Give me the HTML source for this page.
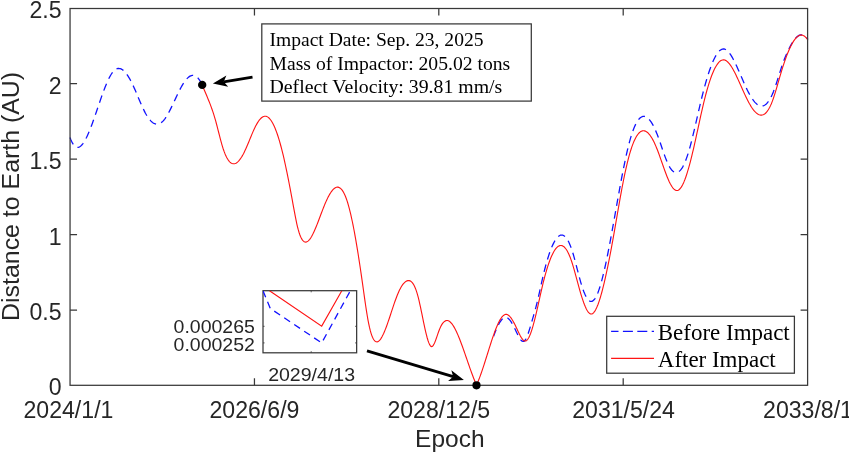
<!DOCTYPE html><html><head><meta charset="utf-8"><title>Distance to Earth</title><style>html,body{margin:0;padding:0;background:#fff}svg{display:block;will-change:transform;opacity:0.999}</style></head><body><svg width="849" height="452" viewBox="0 0 849 452">
<rect width="849" height="452" fill="#fff"/>
<clipPath id="cb"><rect x="494" y="0" width="330" height="400"/></clipPath>
<path d="M70.00,137.60 L70.75,139.50 L71.50,141.18 L72.25,142.65 L73.00,143.90 L73.75,144.95 L74.50,145.81 L75.25,146.47 L76.00,146.94 L76.75,147.23 L77.50,147.35 L78.25,147.30 L79.00,147.10 L79.75,146.73 L80.50,146.22 L81.25,145.57 L82.00,144.78 L82.75,143.86 L83.50,142.81 L84.25,141.65 L85.00,140.38 L85.75,139.00 L86.50,137.53 L87.25,135.96 L88.00,134.30 L88.75,132.57 L89.50,130.76 L90.25,128.88 L91.00,126.95 L91.75,124.95 L92.50,122.91 L93.25,120.83 L94.00,118.71 L94.75,116.56 L95.50,114.38 L96.25,112.19 L97.00,109.99 L97.75,107.78 L98.50,105.57 L99.25,103.37 L100.00,101.18 L100.75,99.02 L101.50,96.87 L102.25,94.76 L103.00,92.69 L103.75,90.67 L104.50,88.69 L105.25,86.77 L106.00,84.92 L106.75,83.13 L107.50,81.42 L108.25,79.80 L109.00,78.26 L109.75,76.81 L110.50,75.47 L111.25,74.23 L112.00,73.11 L112.75,72.10 L113.50,71.22 L114.25,70.47 L115.00,69.84 L115.75,69.33 L116.50,68.94 L117.25,68.67 L118.00,68.51 L118.75,68.46 L119.50,68.52 L120.25,68.68 L121.00,68.95 L121.75,69.32 L122.50,69.79 L123.25,70.36 L124.00,71.02 L124.75,71.77 L125.50,72.61 L126.25,73.53 L127.00,74.54 L127.75,75.63 L128.50,76.80 L129.25,78.04 L130.00,79.36 L130.75,80.75 L131.50,82.21 L132.25,83.73 L133.00,85.32 L133.75,86.95 L134.50,88.63 L135.25,90.35 L136.00,92.09 L136.75,93.85 L137.50,95.63 L138.25,97.41 L139.00,99.19 L139.75,100.95 L140.50,102.70 L141.25,104.42 L142.00,106.10 L142.75,107.74 L143.50,109.33 L144.25,110.86 L145.00,112.33 L145.75,113.72 L146.50,115.02 L147.25,116.25 L148.00,117.39 L148.75,118.45 L149.50,119.42 L150.25,120.30 L151.00,121.10 L151.75,121.81 L152.50,122.42 L153.25,122.95 L154.00,123.39 L154.75,123.73 L155.50,123.98 L156.25,124.13 L157.00,124.19 L157.75,124.16 L158.50,124.02 L159.25,123.79 L160.00,123.46 L160.75,123.03 L161.50,122.50 L162.25,121.87 L163.00,121.13 L163.75,120.29 L164.50,119.35 L165.25,118.33 L166.00,117.21 L166.75,116.03 L167.50,114.77 L168.25,113.44 L169.00,112.06 L169.75,110.63 L170.50,109.15 L171.25,107.64 L172.00,106.09 L172.75,104.52 L173.50,102.93 L174.25,101.33 L175.00,99.72 L175.75,98.12 L176.50,96.53 L177.25,94.94 L178.00,93.39 L178.75,91.85 L179.50,90.36 L180.25,88.90 L181.00,87.50 L181.75,86.14 L182.50,84.85 L183.25,83.63 L184.00,82.47 L184.75,81.39 L185.50,80.39 L186.25,79.47 L187.00,78.63 L187.75,77.88 L188.50,77.22 L189.25,76.65 L190.00,76.18 L190.75,75.81 L191.50,75.55 L192.25,75.39 L193.00,75.34 L193.75,75.40 L194.50,75.58 L195.25,75.88 L196.00,76.30 L196.75,76.84 L197.50,77.52 L198.25,78.33 L199.00,79.27 L199.75,80.36 L200.50,81.58 L201.25,82.96 L202.00,84.48 L202.25,85.02" fill="none" stroke="#1212ff" stroke-width="1.3" stroke-dasharray="7.5 5.3"/>
<path d="M476.50,385.00 L477.25,383.33 L478.00,381.56 L478.75,379.71 L479.50,377.77 L480.25,375.76 L481.00,373.69 L481.75,371.56 L482.50,369.38 L483.25,367.16 L484.00,364.90 L484.75,362.61 L485.50,360.31 L486.25,357.99 L487.00,355.66 L487.75,353.34 L488.50,351.03 L489.25,348.73 L490.00,346.45 L490.75,344.21 L491.50,342.01 L492.25,339.85 L493.00,337.75 L493.75,335.71 L494.50,333.73 L495.25,331.83 L496.00,330.02 L496.75,328.29 L497.50,326.67 L498.25,325.14 L499.00,323.74 L499.75,322.45 L500.50,321.29 L501.25,320.26 L502.00,319.38 L502.75,318.64 L503.50,318.07 L504.25,317.66 L505.00,317.42 L505.75,317.36 L506.50,317.48 L507.25,317.79 L508.00,318.26 L508.75,318.90 L509.50,319.68 L510.25,320.60 L511.00,321.65 L511.75,322.82 L512.50,324.09 L513.25,325.46 L514.00,326.92 L514.75,328.46 L515.50,330.05 L516.25,331.66 L517.00,333.26 L517.75,334.81 L518.50,336.28 L519.25,337.64 L520.00,338.84 L520.75,339.85 L521.50,340.64 L522.25,341.18 L523.00,341.42 L523.75,341.33 L524.50,340.88 L525.25,340.04 L526.00,338.81 L526.75,337.25 L527.50,335.40 L528.25,333.32 L529.00,331.04 L529.75,328.62 L530.50,326.11 L531.25,323.55 L532.00,320.99 L532.75,318.44 L533.50,315.87 L534.25,313.26 L535.00,310.58 L535.75,307.80 L536.50,304.90 L537.25,301.86 L538.00,298.69 L538.75,295.43 L539.50,292.09 L540.25,288.72 L541.00,285.33 L541.75,281.96 L542.50,278.65 L543.25,275.40 L544.00,272.27 L544.75,269.26 L545.50,266.37 L546.25,263.61 L547.00,260.97 L547.75,258.46 L548.50,256.08 L549.25,253.82 L550.00,251.68 L550.75,249.67 L551.50,247.79 L552.25,246.02 L553.00,244.39 L553.75,242.88 L554.50,241.49 L555.25,240.24 L556.00,239.11 L556.75,238.12 L557.50,237.26 L558.25,236.53 L559.00,235.95 L559.75,235.51 L560.50,235.21 L561.25,235.05 L562.00,235.05 L562.75,235.20 L563.50,235.49 L564.25,235.95 L565.00,236.56 L565.75,237.33 L566.50,238.26 L567.25,239.36 L568.00,240.62 L568.75,242.06 L569.50,243.66 L570.25,245.44 L571.00,247.39 L571.75,249.52 L572.50,251.83 L573.25,254.31 L574.00,256.93 L574.75,259.67 L575.50,262.50 L576.25,265.38 L577.00,268.30 L577.75,271.21 L578.50,274.10 L579.25,276.94 L580.00,279.69 L580.75,282.33 L581.50,284.83 L582.25,287.18 L583.00,289.37 L583.75,291.40 L584.50,293.26 L585.25,294.94 L586.00,296.44 L586.75,297.76 L587.50,298.89 L588.25,299.81 L589.00,300.54 L589.75,301.06 L590.50,301.37 L591.25,301.46 L592.00,301.32 L592.75,300.96 L593.50,300.37 L594.25,299.56 L595.00,298.53 L595.75,297.30 L596.50,295.86 L597.25,294.22 L598.00,292.39 L598.75,290.37 L599.50,288.17 L600.25,285.80 L601.00,283.25 L601.75,280.55 L602.50,277.68 L603.25,274.68 L604.00,271.53 L604.75,268.25 L605.50,264.85 L606.25,261.33 L607.00,257.72 L607.75,254.00 L608.50,250.20 L609.25,246.31 L610.00,242.36 L610.75,238.34 L611.50,234.26 L612.25,230.14 L613.00,225.99 L613.75,221.80 L614.50,217.59 L615.25,213.37 L616.00,209.14 L616.75,204.92 L617.50,200.71 L618.25,196.52 L619.00,192.36 L619.75,188.24 L620.50,184.16 L621.25,180.14 L622.00,176.18 L622.75,172.30 L623.50,168.49 L624.25,164.77 L625.00,161.14 L625.75,157.62 L626.50,154.21 L627.25,150.93 L628.00,147.77 L628.75,144.75 L629.50,141.88 L630.25,139.17 L631.00,136.61 L631.75,134.22 L632.50,131.99 L633.25,129.92 L634.00,128.00 L634.75,126.24 L635.50,124.63 L636.25,123.17 L637.00,121.86 L637.75,120.69 L638.50,119.67 L639.25,118.79 L640.00,118.04 L640.75,117.44 L641.50,116.97 L642.25,116.63 L643.00,116.43 L643.75,116.35 L644.50,116.40 L645.25,116.57 L646.00,116.87 L646.75,117.28 L647.50,117.82 L648.25,118.47 L649.00,119.23 L649.75,120.10 L650.50,121.09 L651.25,122.18 L652.00,123.38 L652.75,124.68 L653.50,126.08 L654.25,127.59 L655.00,129.18 L655.75,130.88 L656.50,132.66 L657.25,134.54 L658.00,136.50 L658.75,138.55 L659.50,140.66 L660.25,142.82 L661.00,145.02 L661.75,147.22 L662.50,149.43 L663.25,151.61 L664.00,153.76 L664.75,155.85 L665.50,157.88 L666.25,159.81 L667.00,161.63 L667.75,163.34 L668.50,164.90 L669.25,166.32 L670.00,167.60 L670.75,168.73 L671.50,169.72 L672.25,170.57 L673.00,171.26 L673.75,171.81 L674.50,172.22 L675.25,172.48 L676.00,172.59 L676.75,172.55 L677.50,172.36 L678.25,172.02 L679.00,171.54 L679.75,170.90 L680.50,170.11 L681.25,169.17 L682.00,168.08 L682.75,166.84 L683.50,165.45 L684.25,163.90 L685.00,162.20 L685.75,160.34 L686.50,158.33 L687.25,156.16 L688.00,153.84 L688.75,151.38 L689.50,148.78 L690.25,146.06 L691.00,143.24 L691.75,140.31 L692.50,137.30 L693.25,134.22 L694.00,131.08 L694.75,127.89 L695.50,124.65 L696.25,121.39 L697.00,118.12 L697.75,114.84 L698.50,111.58 L699.25,108.33 L700.00,105.11 L700.75,101.94 L701.50,98.83 L702.25,95.78 L703.00,92.81 L703.75,89.91 L704.50,87.09 L705.25,84.36 L706.00,81.70 L706.75,79.14 L707.50,76.66 L708.25,74.27 L709.00,71.98 L709.75,69.78 L710.50,67.68 L711.25,65.67 L712.00,63.77 L712.75,61.97 L713.50,60.28 L714.25,58.70 L715.00,57.23 L715.75,55.87 L716.50,54.62 L717.25,53.50 L718.00,52.49 L718.75,51.61 L719.50,50.84 L720.25,50.21 L721.00,49.70 L721.75,49.33 L722.50,49.09 L723.25,48.98 L724.00,49.01 L724.75,49.18 L725.50,49.49 L726.25,49.93 L727.00,50.49 L727.75,51.18 L728.50,51.97 L729.25,52.87 L730.00,53.87 L730.75,54.96 L731.50,56.14 L732.25,57.40 L733.00,58.73 L733.75,60.14 L734.50,61.60 L735.25,63.12 L736.00,64.69 L736.75,66.31 L737.50,67.96 L738.25,69.64 L739.00,71.34 L739.75,73.07 L740.50,74.81 L741.25,76.55 L742.00,78.29 L742.75,80.02 L743.50,81.75 L744.25,83.45 L745.00,85.13 L745.75,86.77 L746.50,88.38 L747.25,89.94 L748.00,91.46 L748.75,92.91 L749.50,94.31 L750.25,95.64 L751.00,96.89 L751.75,98.08 L752.50,99.20 L753.25,100.23 L754.00,101.19 L754.75,102.08 L755.50,102.87 L756.25,103.59 L757.00,104.22 L757.75,104.75 L758.50,105.20 L759.25,105.56 L760.00,105.81 L760.75,105.97 L761.50,106.03 L762.25,105.99 L763.00,105.84 L763.75,105.59 L764.50,105.23 L765.25,104.75 L766.00,104.16 L766.75,103.46 L767.50,102.64 L768.25,101.69 L769.00,100.63 L769.75,99.44 L770.50,98.12 L771.25,96.67 L772.00,95.09 L772.75,93.38 L773.50,91.53 L774.25,89.55 L775.00,87.45 L775.75,85.26 L776.50,82.99 L777.25,80.66 L778.00,78.29 L778.75,75.91 L779.50,73.52 L780.25,71.16 L781.00,68.83 L781.75,66.57 L782.50,64.38 L783.25,62.28 L784.00,60.25 L784.75,58.31 L785.50,56.44 L786.25,54.64 L787.00,52.92 L787.75,51.27 L788.50,49.70 L789.25,48.19 L790.00,46.75 L790.75,45.37 L791.50,44.06 L792.25,42.83 L793.00,41.66 L793.75,40.58 L794.50,39.57 L795.25,38.65 L796.00,37.82 L796.75,37.08 L797.50,36.44 L798.25,35.89 L799.00,35.45 L799.75,35.12 L800.50,34.90 L801.25,34.79 L802.00,34.80 L802.75,34.93 L803.50,35.18 L804.25,35.57 L805.00,36.09 L805.75,36.74 L806.50,37.53 L807.25,38.47 L807.90,39.40" fill="none" stroke="#1212ff" stroke-width="1.3" stroke-dasharray="7.5 5.3" clip-path="url(#cb)"/>
<path d="M202.25,85.00 L203.00,86.87 L203.75,88.70 L204.50,90.50 L205.25,92.28 L206.00,94.05 L206.75,95.82 L207.50,97.61 L208.25,99.42 L209.00,101.26 L209.75,103.15 L210.50,105.09 L211.25,107.11 L212.00,109.20 L212.75,111.38 L213.50,113.66 L214.25,116.05 L215.00,118.57 L215.75,121.21 L216.50,123.99 L217.25,126.86 L218.00,129.80 L218.75,132.76 L219.50,135.71 L220.25,138.61 L221.00,141.42 L221.75,144.12 L222.50,146.66 L223.25,149.01 L224.00,151.17 L224.75,153.15 L225.50,154.94 L226.25,156.56 L227.00,158.00 L227.75,159.27 L228.50,160.38 L229.25,161.32 L230.00,162.11 L230.75,162.74 L231.50,163.22 L232.25,163.56 L233.00,163.75 L233.75,163.80 L234.50,163.72 L235.25,163.51 L236.00,163.17 L236.75,162.70 L237.50,162.12 L238.25,161.42 L239.00,160.62 L239.75,159.70 L240.50,158.68 L241.25,157.56 L242.00,156.35 L242.75,155.04 L243.50,153.65 L244.25,152.17 L245.00,150.61 L245.75,148.98 L246.50,147.28 L247.25,145.53 L248.00,143.74 L248.75,141.93 L249.50,140.10 L250.25,138.26 L251.00,136.44 L251.75,134.64 L252.50,132.87 L253.25,131.14 L254.00,129.48 L254.75,127.88 L255.50,126.37 L256.25,124.94 L257.00,123.61 L257.75,122.38 L258.50,121.24 L259.25,120.21 L260.00,119.29 L260.75,118.48 L261.50,117.79 L262.25,117.21 L263.00,116.76 L263.75,116.44 L264.50,116.25 L265.25,116.20 L266.00,116.28 L266.75,116.51 L267.50,116.87 L268.25,117.38 L269.00,118.02 L269.75,118.81 L270.50,119.73 L271.25,120.78 L272.00,121.97 L272.75,123.30 L273.50,124.76 L274.25,126.35 L275.00,128.08 L275.75,129.93 L276.50,131.92 L277.25,134.03 L278.00,136.27 L278.75,138.64 L279.50,141.14 L280.25,143.76 L281.00,146.51 L281.75,149.38 L282.50,152.38 L283.25,155.49 L284.00,158.72 L284.75,162.06 L285.50,165.50 L286.25,169.04 L287.00,172.66 L287.75,176.37 L288.50,180.15 L289.25,184.00 L290.00,187.91 L290.75,191.87 L291.50,195.89 L292.25,199.94 L293.00,204.03 L293.75,208.13 L294.50,212.20 L295.25,216.17 L296.00,219.97 L296.75,223.53 L297.50,226.80 L298.25,229.71 L299.00,232.28 L299.75,234.52 L300.50,236.43 L301.25,238.04 L302.00,239.36 L302.75,240.40 L303.50,241.17 L304.25,241.70 L305.00,242.00 L305.75,242.07 L306.50,241.94 L307.25,241.61 L308.00,241.11 L308.75,240.43 L309.50,239.59 L310.25,238.60 L311.00,237.47 L311.75,236.21 L312.50,234.83 L313.25,233.34 L314.00,231.75 L314.75,230.08 L315.50,228.33 L316.25,226.51 L317.00,224.64 L317.75,222.72 L318.50,220.76 L319.25,218.79 L320.00,216.79 L320.75,214.80 L321.50,212.81 L322.25,210.83 L323.00,208.89 L323.75,206.98 L324.50,205.13 L325.25,203.33 L326.00,201.60 L326.75,199.94 L327.50,198.37 L328.25,196.87 L329.00,195.46 L329.75,194.15 L330.50,192.93 L331.25,191.81 L332.00,190.80 L332.75,189.90 L333.50,189.12 L334.25,188.47 L335.00,187.93 L335.75,187.53 L336.50,187.27 L337.25,187.15 L338.00,187.17 L338.75,187.35 L339.50,187.68 L340.25,188.17 L341.00,188.83 L341.75,189.66 L342.50,190.66 L343.25,191.84 L344.00,193.21 L344.75,194.77 L345.50,196.53 L346.25,198.48 L347.00,200.64 L347.75,203.01 L348.50,205.57 L349.25,208.34 L350.00,211.30 L350.75,214.44 L351.50,217.76 L352.25,221.25 L353.00,224.92 L353.75,228.74 L354.50,232.72 L355.25,236.85 L356.00,241.13 L356.75,245.54 L357.50,250.09 L358.25,254.77 L359.00,259.56 L359.75,264.48 L360.50,269.50 L361.25,274.63 L362.00,279.85 L362.75,285.17 L363.50,290.53 L364.25,295.87 L365.00,301.13 L365.75,306.24 L366.50,311.14 L367.25,315.77 L368.00,320.06 L368.75,323.96 L369.50,327.42 L370.25,330.46 L371.00,333.10 L371.75,335.35 L372.50,337.24 L373.25,338.78 L374.00,339.99 L374.75,340.88 L375.50,341.48 L376.25,341.80 L377.00,341.86 L377.75,341.68 L378.50,341.27 L379.25,340.65 L380.00,339.83 L380.75,338.83 L381.50,337.66 L382.25,336.33 L383.00,334.85 L383.75,333.24 L384.50,331.50 L385.25,329.66 L386.00,327.72 L386.75,325.69 L387.50,323.59 L388.25,321.43 L389.00,319.22 L389.75,316.97 L390.50,314.70 L391.25,312.42 L392.00,310.14 L392.75,307.88 L393.50,305.64 L394.25,303.44 L395.00,301.28 L395.75,299.20 L396.50,297.19 L397.25,295.26 L398.00,293.44 L398.75,291.72 L399.50,290.12 L400.25,288.64 L401.00,287.28 L401.75,286.03 L402.50,284.91 L403.25,283.91 L404.00,283.04 L404.75,282.30 L405.50,281.68 L406.25,281.20 L407.00,280.85 L407.75,280.64 L408.50,280.57 L409.25,280.64 L410.00,280.87 L410.75,281.27 L411.50,281.85 L412.25,282.62 L413.00,283.61 L413.75,284.82 L414.50,286.26 L415.25,287.95 L416.00,289.89 L416.75,292.11 L417.50,294.62 L418.25,297.42 L419.00,300.49 L419.75,303.77 L420.50,307.23 L421.25,310.81 L422.00,314.46 L422.75,318.13 L423.50,321.78 L424.25,325.36 L425.00,328.82 L425.75,332.12 L426.50,335.19 L427.25,338.00 L428.00,340.50 L428.75,342.64 L429.50,344.36 L430.25,345.63 L431.00,346.39 L431.75,346.60 L432.50,346.24 L433.25,345.38 L434.00,344.10 L434.75,342.48 L435.50,340.60 L436.25,338.53 L437.00,336.35 L437.75,334.15 L438.50,332.00 L439.25,329.98 L440.00,328.15 L440.75,326.53 L441.50,325.12 L442.25,323.91 L443.00,322.88 L443.75,322.05 L444.50,321.41 L445.25,320.94 L446.00,320.64 L446.75,320.52 L447.50,320.56 L448.25,320.76 L449.00,321.11 L449.75,321.61 L450.50,322.26 L451.25,323.04 L452.00,323.95 L452.75,324.98 L453.50,326.13 L454.25,327.39 L455.00,328.76 L455.75,330.22 L456.50,331.77 L457.25,333.42 L458.00,335.14 L458.75,336.93 L459.50,338.79 L460.25,340.71 L461.00,342.68 L461.75,344.71 L462.50,346.77 L463.25,348.87 L464.00,351.00 L464.75,353.15 L465.50,355.32 L466.25,357.50 L467.00,359.68 L467.75,361.86 L468.50,364.03 L469.25,366.19 L470.00,368.32 L470.75,370.43 L471.50,372.50 L472.25,374.53 L473.00,376.52 L473.75,378.46 L474.50,380.33 L475.25,382.14 L476.00,383.88 L476.50,385.00" fill="none" stroke="#ff1414" stroke-width="1.12"/>
<path d="M476.50,385.00 L477.25,383.36 L478.00,381.62 L478.75,379.78 L479.50,377.84 L480.25,375.83 L481.00,373.75 L481.75,371.60 L482.50,369.39 L483.25,367.13 L484.00,364.83 L484.75,362.49 L485.50,360.13 L486.25,357.75 L487.00,355.36 L487.75,352.96 L488.50,350.57 L489.25,348.19 L490.00,345.82 L490.75,343.49 L491.50,341.19 L492.25,338.93 L493.00,336.72 L493.75,334.57 L494.50,332.49 L495.25,330.48 L496.00,328.55 L496.75,326.71 L497.50,324.97 L498.25,323.33 L499.00,321.80 L499.75,320.39 L500.50,319.11 L501.25,317.97 L502.00,316.96 L502.75,316.11 L503.50,315.42 L504.25,314.89 L505.00,314.54 L505.75,314.37 L506.50,314.38 L507.25,314.58 L508.00,314.95 L508.75,315.48 L509.50,316.17 L510.25,316.99 L511.00,317.95 L511.75,319.03 L512.50,320.21 L513.25,321.50 L514.00,322.87 L514.75,324.33 L515.50,325.85 L516.25,327.43 L517.00,329.04 L517.75,330.66 L518.50,332.26 L519.25,333.80 L520.00,335.27 L520.75,336.63 L521.50,337.86 L522.25,338.93 L523.00,339.80 L523.75,340.46 L524.50,340.88 L525.25,341.02 L526.00,340.86 L526.75,340.39 L527.50,339.60 L528.25,338.52 L529.00,337.16 L529.75,335.54 L530.50,333.68 L531.25,331.60 L532.00,329.30 L532.75,326.82 L533.50,324.16 L534.25,321.35 L535.00,318.40 L535.75,315.32 L536.50,312.14 L537.25,308.87 L538.00,305.54 L538.75,302.16 L539.50,298.77 L540.25,295.40 L541.00,292.05 L541.75,288.77 L542.50,285.57 L543.25,282.49 L544.00,279.51 L544.75,276.65 L545.50,273.91 L546.25,271.28 L547.00,268.77 L547.75,266.38 L548.50,264.12 L549.25,261.97 L550.00,259.95 L550.75,258.06 L551.50,256.29 L552.25,254.65 L553.00,253.14 L553.75,251.76 L554.50,250.51 L555.25,249.40 L556.00,248.42 L556.75,247.58 L557.50,246.88 L558.25,246.32 L559.00,245.90 L559.75,245.62 L560.50,245.49 L561.25,245.50 L562.00,245.66 L562.75,245.97 L563.50,246.43 L564.25,247.04 L565.00,247.80 L565.75,248.72 L566.50,249.79 L567.25,251.02 L568.00,252.41 L568.75,253.96 L569.50,255.67 L570.25,257.55 L571.00,259.59 L571.75,261.79 L572.50,264.14 L573.25,266.61 L574.00,269.18 L574.75,271.84 L575.50,274.56 L576.25,277.32 L577.00,280.10 L577.75,282.88 L578.50,285.64 L579.25,288.35 L580.00,291.00 L580.75,293.57 L581.50,296.05 L582.25,298.42 L583.00,300.67 L583.75,302.79 L584.50,304.76 L585.25,306.58 L586.00,308.23 L586.75,309.70 L587.50,310.97 L588.25,312.04 L589.00,312.89 L589.75,313.51 L590.50,313.88 L591.25,314.00 L592.00,313.86 L592.75,313.46 L593.50,312.83 L594.25,311.96 L595.00,310.86 L595.75,309.55 L596.50,308.04 L597.25,306.33 L598.00,304.43 L598.75,302.36 L599.50,300.12 L600.25,297.72 L601.00,295.18 L601.75,292.49 L602.50,289.67 L603.25,286.72 L604.00,283.65 L604.75,280.46 L605.50,277.15 L606.25,273.74 L607.00,270.22 L607.75,266.61 L608.50,262.91 L609.25,259.12 L610.00,255.25 L610.75,251.30 L611.50,247.28 L612.25,243.19 L613.00,239.05 L613.75,234.84 L614.50,230.59 L615.25,226.30 L616.00,221.97 L616.75,217.62 L617.50,213.27 L618.25,208.94 L619.00,204.63 L619.75,200.37 L620.50,196.16 L621.25,192.03 L622.00,187.99 L622.75,184.06 L623.50,180.24 L624.25,176.55 L625.00,172.99 L625.75,169.56 L626.50,166.26 L627.25,163.10 L628.00,160.08 L628.75,157.20 L629.50,154.47 L630.25,151.89 L631.00,149.46 L631.75,147.19 L632.50,145.07 L633.25,143.11 L634.00,141.30 L634.75,139.65 L635.50,138.14 L636.25,136.78 L637.00,135.56 L637.75,134.49 L638.50,133.55 L639.25,132.76 L640.00,132.10 L640.75,131.57 L641.50,131.18 L642.25,130.91 L643.00,130.78 L643.75,130.77 L644.50,130.88 L645.25,131.11 L646.00,131.46 L646.75,131.93 L647.50,132.52 L648.25,133.21 L649.00,134.02 L649.75,134.93 L650.50,135.95 L651.25,137.08 L652.00,138.31 L652.75,139.63 L653.50,141.06 L654.25,142.58 L655.00,144.19 L655.75,145.89 L656.50,147.68 L657.25,149.56 L658.00,151.52 L658.75,153.54 L659.50,155.61 L660.25,157.72 L661.00,159.85 L661.75,162.00 L662.50,164.16 L663.25,166.30 L664.00,168.42 L664.75,170.51 L665.50,172.55 L666.25,174.54 L667.00,176.45 L667.75,178.28 L668.50,180.02 L669.25,181.66 L670.00,183.19 L670.75,184.60 L671.50,185.89 L672.25,187.03 L673.00,188.03 L673.75,188.88 L674.50,189.56 L675.25,190.07 L676.00,190.39 L676.75,190.52 L677.50,190.45 L678.25,190.17 L679.00,189.69 L679.75,189.02 L680.50,188.15 L681.25,187.10 L682.00,185.87 L682.75,184.47 L683.50,182.90 L684.25,181.16 L685.00,179.26 L685.75,177.21 L686.50,175.02 L687.25,172.68 L688.00,170.20 L688.75,167.60 L689.50,164.88 L690.25,162.04 L691.00,159.11 L691.75,156.08 L692.50,152.96 L693.25,149.77 L694.00,146.51 L694.75,143.19 L695.50,139.82 L696.25,136.41 L697.00,132.97 L697.75,129.51 L698.50,126.05 L699.25,122.59 L700.00,119.15 L700.75,115.73 L701.50,112.37 L702.25,109.06 L703.00,105.81 L703.75,102.65 L704.50,99.58 L705.25,96.62 L706.00,93.76 L706.75,91.00 L707.50,88.36 L708.25,85.82 L709.00,83.39 L709.75,81.08 L710.50,78.88 L711.25,76.79 L712.00,74.82 L712.75,72.96 L713.50,71.22 L714.25,69.60 L715.00,68.10 L715.75,66.72 L716.50,65.47 L717.25,64.33 L718.00,63.32 L718.75,62.44 L719.50,61.69 L720.25,61.06 L721.00,60.56 L721.75,60.19 L722.50,59.96 L723.25,59.86 L724.00,59.89 L724.75,60.06 L725.50,60.36 L726.25,60.78 L727.00,61.33 L727.75,61.99 L728.50,62.76 L729.25,63.63 L730.00,64.60 L730.75,65.66 L731.50,66.80 L732.25,68.02 L733.00,69.32 L733.75,70.67 L734.50,72.09 L735.25,73.57 L736.00,75.09 L736.75,76.65 L737.50,78.25 L738.25,79.88 L739.00,81.53 L739.75,83.20 L740.50,84.88 L741.25,86.57 L742.00,88.26 L742.75,89.94 L743.50,91.61 L744.25,93.26 L745.00,94.88 L745.75,96.48 L746.50,98.04 L747.25,99.55 L748.00,101.02 L748.75,102.44 L749.50,103.80 L750.25,105.09 L751.00,106.33 L751.75,107.49 L752.50,108.59 L753.25,109.62 L754.00,110.57 L754.75,111.43 L755.50,112.22 L756.25,112.92 L757.00,113.53 L757.75,114.05 L758.50,114.47 L759.25,114.80 L760.00,115.02 L760.75,115.14 L761.50,115.15 L762.25,115.04 L763.00,114.83 L763.75,114.49 L764.50,114.04 L765.25,113.45 L766.00,112.75 L766.75,111.91 L767.50,110.93 L768.25,109.82 L769.00,108.57 L769.75,107.17 L770.50,105.63 L771.25,103.94 L772.00,102.09 L772.75,100.09 L773.50,97.95 L774.25,95.68 L775.00,93.31 L775.75,90.85 L776.50,88.32 L777.25,85.74 L778.00,83.14 L778.75,80.52 L779.50,77.92 L780.25,75.34 L781.00,72.81 L781.75,70.34 L782.50,67.93 L783.25,65.58 L784.00,63.31 L784.75,61.10 L785.50,58.96 L786.25,56.90 L787.00,54.91 L787.75,53.01 L788.50,51.18 L789.25,49.44 L790.00,47.79 L790.75,46.23 L791.50,44.76 L792.25,43.38 L793.00,42.10 L793.75,40.92 L794.50,39.84 L795.25,38.87 L796.00,38.00 L796.75,37.24 L797.50,36.59 L798.25,36.05 L799.00,35.62 L799.75,35.32 L800.50,35.13 L801.25,35.07 L802.00,35.13 L802.75,35.31 L803.50,35.63 L804.25,36.08 L805.00,36.66 L805.75,37.37 L806.50,38.23 L807.25,39.22 L807.90,40.20" fill="none" stroke="#ff1414" stroke-width="1.12"/>
<rect x="70.05" y="8.5" width="737.5500000000001" height="376.8" fill="none" stroke="#383838" stroke-width="1.25"/>
<path d="M254.45,385.3v-7 M254.45,8.5v7 M438.8,385.3v-7 M438.8,8.5v7 M623.2,385.3v-7 M623.2,8.5v7 M70.05,310.1h7 M807.6,310.1h-7 M70.05,234.7h7 M807.6,234.7h-7 M70.05,159.2h7 M807.6,159.2h-7 M70.05,83.6h7 M807.6,83.6h-7" stroke="#383838" stroke-width="1.25" fill="none"/>
<text transform="translate(68.45,417.6) scale(1.0,1)" font-family='"Liberation Sans", sans-serif' font-size="23.1" text-anchor="middle" fill="#262626" xml:space="preserve">2024/1/1</text>
<text transform="translate(254.45,417.6) scale(1.0,1)" font-family='"Liberation Sans", sans-serif' font-size="23.1" text-anchor="middle" fill="#262626" xml:space="preserve">2026/6/9</text>
<text transform="translate(438.8,417.6) scale(1.0,1)" font-family='"Liberation Sans", sans-serif' font-size="23.1" text-anchor="middle" fill="#262626" xml:space="preserve">2028/12/5</text>
<text transform="translate(623.6,417.6) scale(1.0,1)" font-family='"Liberation Sans", sans-serif' font-size="23.1" text-anchor="middle" fill="#262626" xml:space="preserve">2031/5/24</text>
<text transform="translate(808.0,417.6) scale(1.0,1)" font-family='"Liberation Sans", sans-serif' font-size="23.1" text-anchor="middle" fill="#262626" xml:space="preserve">2033/8/1</text>
<text transform="translate(61.5,395.2) scale(1.0,1)" font-family='"Liberation Sans", sans-serif' font-size="23.1" text-anchor="end" fill="#262626" xml:space="preserve">0</text>
<text transform="translate(61.5,320.0) scale(1.0,1)" font-family='"Liberation Sans", sans-serif' font-size="23.1" text-anchor="end" fill="#262626" xml:space="preserve">0.5</text>
<text transform="translate(61.5,244.6) scale(1.0,1)" font-family='"Liberation Sans", sans-serif' font-size="23.1" text-anchor="end" fill="#262626" xml:space="preserve">1</text>
<text transform="translate(61.5,169.1) scale(1.0,1)" font-family='"Liberation Sans", sans-serif' font-size="23.1" text-anchor="end" fill="#262626" xml:space="preserve">1.5</text>
<text transform="translate(61.5,93.5) scale(1.0,1)" font-family='"Liberation Sans", sans-serif' font-size="23.1" text-anchor="end" fill="#262626" xml:space="preserve">2</text>
<text transform="translate(61.5,18.4) scale(1.0,1)" font-family='"Liberation Sans", sans-serif' font-size="23.1" text-anchor="end" fill="#262626" xml:space="preserve">2.5</text>
<text transform="translate(449.8,446.5) scale(1.0,1)" font-family='"Liberation Sans", sans-serif' font-size="24.5" text-anchor="middle" fill="#262626" xml:space="preserve">Epoch</text>
<text transform="translate(18.8,196.4) rotate(-90) scale(1.021,1)" font-family='"Liberation Sans", sans-serif' font-size="24.4" text-anchor="middle" fill="#262626">Distance to Earth (AU)</text>
<rect x="261.8" y="23.9" width="269.5" height="77.2" fill="#fff" stroke="#383838" stroke-width="1.25"/>
<text transform="translate(269.5,46.4) scale(1.06318,1)" font-family='"Liberation Serif", serif' font-size="18.4" text-anchor="start" fill="#000" xml:space="preserve">Impact Date: Sep. 23, 2025</text>
<text transform="translate(269.5,69.6) scale(1.0687967999999999,1)" font-family='"Liberation Serif", serif' font-size="18.4" text-anchor="start" fill="#000" xml:space="preserve">Mass of Impactor: 205.02 tons</text>
<text transform="translate(269.5,92.8) scale(1.0762189999999998,1)" font-family='"Liberation Serif", serif' font-size="18.4" text-anchor="start" fill="#000" xml:space="preserve">Deflect Velocity: 39.81 mm/s</text>
<rect x="606.7" y="316.3" width="187.7" height="56.9" fill="#fff" stroke="#383838" stroke-width="1.25"/>
<path d="M611.1,331.4H654" stroke="#1212ff" stroke-width="1.3" stroke-dasharray="10 4.4" stroke-dashoffset="2.6" fill="none"/>
<path d="M611.1,358.4H654" stroke="#ff1414" stroke-width="1.12" fill="none"/>
<text transform="translate(657.8,339.6) scale(1.03,1)" font-family='"Liberation Serif", serif' font-size="22.3" text-anchor="start" fill="#000" xml:space="preserve">Before Impact</text>
<text transform="translate(657.8,366.8) scale(1.03,1)" font-family='"Liberation Serif", serif' font-size="22.3" text-anchor="start" fill="#000" xml:space="preserve">After Impact</text>
<rect x="263.0" y="290.7" width="93.65" height="62.1" fill="#fff" stroke="#383838" stroke-width="1.25"/>
<clipPath id="ci"><rect x="263.0" y="290.7" width="93.65" height="62.1"/></clipPath>
<g clip-path="url(#ci)">
<path d="M263,290.7 L270.3,308.5 L321.7,342.9 L350.4,290.7" fill="none" stroke="#1212ff" stroke-width="1.3" stroke-dasharray="7 5"/>
<path d="M269.5,290.7 L321.7,326.1 L341.8,290.7" fill="none" stroke="#ff1414" stroke-width="1.12"/>
</g>
<path d="M263,326.3h1.6 M356.65,326.3h-1.6 M263,342.9h1.6 M356.65,342.9h-1.6 M311.2,352.8v-1.6 M311.2,290.7v1.6" stroke="#383838" stroke-width="0.8" fill="none"/>
<text transform="translate(254.9,333.2) scale(1.066,1)" font-family='"Liberation Sans", sans-serif' font-size="18.3" text-anchor="end" fill="#262626" xml:space="preserve">0.000265</text>
<text transform="translate(254.9,351.3) scale(1.066,1)" font-family='"Liberation Sans", sans-serif' font-size="18.3" text-anchor="end" fill="#262626" xml:space="preserve">0.000252</text>
<text transform="translate(311.6,380.8) scale(1.068,1)" font-family='"Liberation Sans", sans-serif' font-size="18.3" text-anchor="middle" fill="#262626" xml:space="preserve">2029/4/13</text>
<path d="M252.50,77.10L223.75,81.82" stroke="#000" stroke-width="2.9" fill="none"/><path d="M212.90,83.60 L226.38,75.61 L223.75,81.82 L228.23,86.86Z" fill="#000"/>
<path d="M367.00,350.90L453.17,376.69" stroke="#000" stroke-width="2.9" fill="none"/><path d="M463.90,379.90 L448.09,381.12 L453.17,376.69 L451.36,370.20Z" fill="#000"/>
<circle cx="202.2" cy="84.9" r="4.2" fill="#000"/>
<circle cx="476.5" cy="385.3" r="4.1" fill="#000"/>
</svg></body></html>
